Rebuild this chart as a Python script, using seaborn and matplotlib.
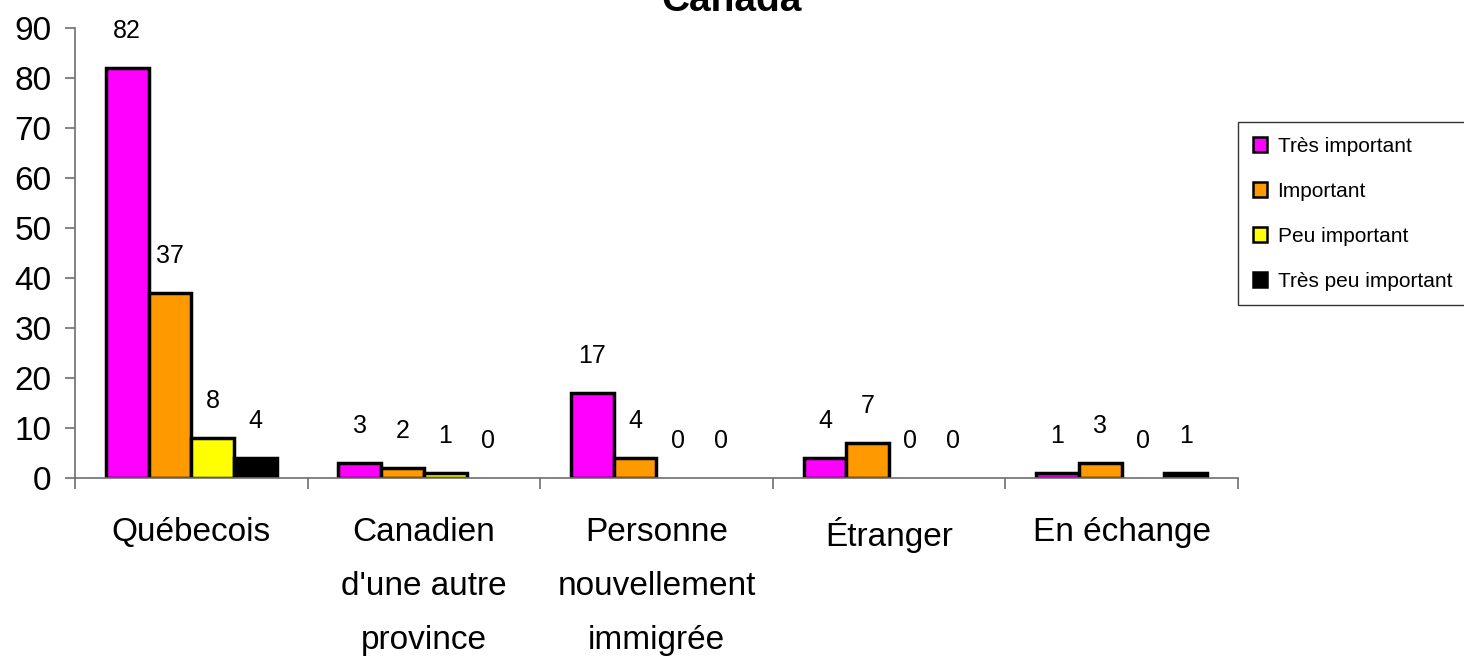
import numpy as np
import pandas as pd
import matplotlib
matplotlib.use('Agg')
import matplotlib.pyplot as plt
import seaborn as sns

# Chart data
categories = ['Québecois', "Canadien\nd'une autre\nprovince", 'Personne\nnouvellement\nimmigrée',
              'Étranger', 'En échange']
levels = ['Très important', 'Important', 'Peu important', 'Très peu important']
tres_important = [82, 3, 17, 4, 1]
important = [37, 2, 4, 7, 3]
peu_important = [8, 1, 0, 0, 0]
tres_peu_important = [4, 0, 0, 0, 1]
colors = ['#FF00FF', '#FF9900', '#FFFF00', '#000000']
yticks = list(range(0, 91, 10))

sns.set_theme(style='white')
plt.rcParams['font.family'] = ['Liberation Sans', 'DejaVu Sans']
plt.rcParams['text.color'] = 'black'
plt.rcParams['xtick.labelcolor'] = 'black'
plt.rcParams['ytick.labelcolor'] = 'black'

series = [tres_important, important, peu_important, tres_peu_important]
df = pd.DataFrame({
    'categorie': np.repeat([categories], len(levels), axis=0).ravel(),
    'niveau': np.repeat(levels, len(categories)),
    'valeur': np.concatenate(series),
})

fig = plt.figure(figsize=(14.64, 6.56), dpi=100)
ax = fig.add_axes([0.0512, 0.2713, 0.7944, 0.6860])

sns.barplot(data=df, x='categorie', y='valeur', hue='niveau', order=categories,
            hue_order=levels, palette=colors, edgecolor='black', linewidth=2.5,
            width=0.735, gap=0, saturation=1, ax=ax, errorbar=None)

# zero bars have no outline in the original
for cont in ax.containers:
    for p in cont.patches:
        if p.get_height() == 0:
            p.set_linewidth(0)
    ax.bar_label(cont, padding=18, fontsize=18, color='black')

ax.set_ylim(0, 90)
ax.set_xlim(-0.5, len(categories) - 0.5)
ax.set_yticks(yticks)
ax.set_xlabel('')
ax.set_ylabel('')
for s in ['top', 'right']:
    ax.spines[s].set_visible(False)
for s in ['left', 'bottom']:
    ax.spines[s].set_color('#6e6e6e')
    ax.spines[s].set_linewidth(1.2)

ax.tick_params(axis='y', which='major', direction='out', length=7, width=1.2,
               color='#6e6e6e', labelsize=24, pad=10, left=True)
ax.set_xticks(np.arange(-0.5, len(categories), 1.0), minor=True)
ax.tick_params(axis='x', which='minor', direction='out', length=8, width=1.2,
               color='#6e6e6e', bottom=True)
ax.tick_params(axis='x', which='major', length=0, labelsize=24, pad=28)
for lbl in ax.get_xticklabels():
    lbl.set_linespacing(1.95)

leg = ax.legend(loc='upper left', bbox_to_anchor=(0.8456, 0.814),
                bbox_transform=fig.transFigure, fontsize=15, frameon=True,
                fancybox=False, edgecolor='black', handlelength=0.7, handleheight=0.7,
                handletextpad=0.5, labelspacing=1.25, borderpad=0.7, borderaxespad=0)
leg.get_frame().set_linewidth(1.0)
for h in leg.legend_handles:
    h.set_edgecolor('black')
    h.set_linewidth(1.8)

fig.text(0.5, 1 - 11 / 656, 'Canada', ha='center', va='baseline',
         fontsize=28, fontweight='bold')

fig.savefig('out.png', dpi=100)
plt.close(fig)
